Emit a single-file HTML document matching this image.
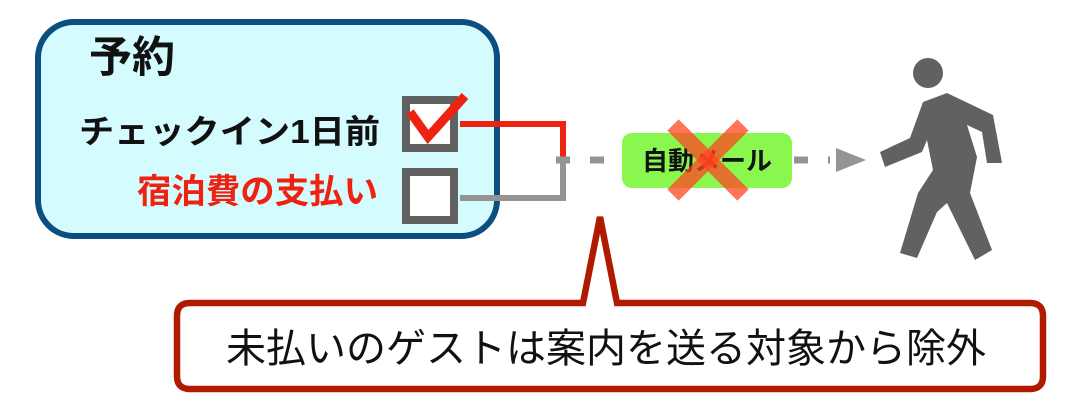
<!DOCTYPE html>
<html><head><meta charset="utf-8"><style>
html,body{margin:0;padding:0;background:#fff;width:1080px;height:404px;overflow:hidden}
svg{display:block}
text{font-family:"Liberation Sans","Noto Sans CJK JP",sans-serif}
</style></head><body>
<svg width="1080" height="404" viewBox="0 0 1080 404">
<rect x="38" y="22" width="459" height="214" rx="36" fill="#d4fbfd" stroke="#0a4f80" stroke-width="6"/>
<text x="89" y="72" font-size="43" font-weight="bold" fill="#111">予約</text>
<text x="79" y="143" font-size="33" font-weight="bold" fill="#111" textLength="301" lengthAdjust="spacingAndGlyphs">チェックイン1日前</text>
<text x="137" y="203" font-size="34" font-weight="bold" fill="#ee2211" textLength="241" lengthAdjust="spacingAndGlyphs">宿泊費の支払い</text>
<rect x="406" y="100" width="48" height="48" fill="#fff" stroke="#616161" stroke-width="8"/>
<rect x="406" y="172" width="48" height="48" fill="#fff" stroke="#616161" stroke-width="8"/>
<polyline points="410,112 428,137 465,96" fill="none" stroke="#ee2211" stroke-width="9"/>
<polyline points="460,124 563,124 563,157" fill="none" stroke="#ee2211" stroke-width="6"/>
<polyline points="460,198 563,198 563,160" fill="none" stroke="#949494" stroke-width="6"/>
<line x1="556" y1="160" x2="830" y2="160" stroke="#949494" stroke-width="7" stroke-dasharray="14,20"/>
<polygon points="836,148 866,160 836,172" fill="#949494"/>
<rect x="622" y="133" width="170" height="55" rx="10" fill="#8af74f"/>
<text x="707" y="170" font-size="26" font-weight="bold" fill="#111" text-anchor="middle">自動メール</text>
<g stroke="#ff4422" stroke-opacity="0.75" stroke-width="16">
<line x1="673" y1="125" x2="743" y2="195"/><line x1="743" y1="125" x2="673" y2="195"/></g>
<circle cx="928" cy="73" r="15" fill="#616161"/>
<polygon points="923,102 947,93 993,115 1002,163 987,163 982,132 967,125 977,157 970,193 992,250 975,260 947,203 937,212 917,258 900,253 918,193 933,170 927,140 922,152 885,167 880,152 910,138" fill="#616161"/>
<path d="M190,303 H583 L600,217 L617,303 H1030 Q1043,303 1043,316 V376 Q1043,389 1030,389 H190 Q177,389 177,376 V316 Q177,303 190,303 Z" fill="#fff" stroke="#b01a00" stroke-width="6.5" stroke-linejoin="miter"/>
<text x="226" y="362" font-size="40" fill="#111">未払いのゲストは案内を送る対象から除外</text>
</svg>
</body></html>
